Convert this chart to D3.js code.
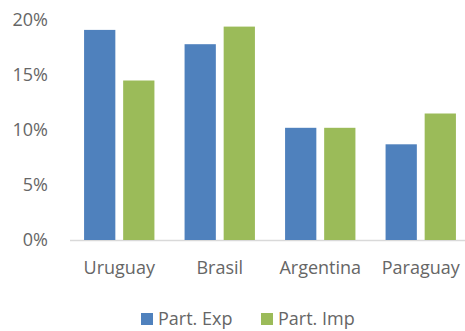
<!DOCTYPE html>
<html><head><meta charset="utf-8">
<script src="https://cdn.jsdelivr.net/npm/d3@7"></script>
<style>body{margin:0;background:#fff}svg{display:block}</style>
</head><body>
<svg id="c" width="465" height="331"></svg>
<script>
const categories = ["Uruguay", "Brasil", "Argentina", "Paraguay"];
const seriesNames = ["Part. Exp", "Part. Imp"];
const partExp = [0.191, 0.178, 0.102, 0.087];
const partImp = [0.145, 0.194, 0.102, 0.115];
const yTicks = [0, 0.05, 0.10, 0.15, 0.20];
const colors = ["#4F81BD", "#9BBB59"];

const svg = d3.select("#c");
const font = "'Open Sans', sans-serif";
const textColor = "#666666";

const x0 = d3.scaleBand().domain(categories).range([69, 471]).paddingInner(0.3).paddingOuter(0.15);
const x1 = d3.scaleBand().domain(seriesNames).range([0, x0.bandwidth()]).paddingInner(0.2);
const y = d3.scaleLinear().domain([0, 0.2]).range([240, 20]);

const values = [partExp, partImp];
const data = categories.map((c, i) => ({cat: c, vals: seriesNames.map((s, j) => ({s, j, v: values[j][i]}))}));

// baseline
svg.append("line").attr("x1", 70).attr("x2", 465).attr("y1", y(0) + 0.5).attr("y2", y(0) + 0.5)
  .attr("stroke", "#d9d9d9").attr("stroke-width", 1.5);

// bars
const g = svg.selectAll("g.grp").data(data).enter().append("g").attr("class", "grp")
  .attr("transform", d => `translate(${x0(d.cat)},0)`);
g.selectAll("rect").data(d => d.vals).enter().append("rect")
  .attr("x", d => x1(d.s)).attr("width", x1.bandwidth())
  .attr("y", d => y(d.v)).attr("height", d => y(0) - y(d.v))
  .attr("fill", d => colors[d.j]);

// y axis
const yAxis = d3.axisLeft(y).tickValues(yTicks).tickFormat(d3.format(".0%")).tickSize(0).tickPadding(0);
const ya = svg.append("g").attr("transform", "translate(48,0)").call(yAxis);
ya.select(".domain").remove();
ya.selectAll("text").attr("font-family", font).attr("font-size", 18).attr("fill", textColor);

// x axis
const xAxis = d3.axisBottom(x0).tickSize(0).tickPadding(0);
const xa = svg.append("g").attr("transform", "translate(0,261)").call(xAxis);
xa.select(".domain").remove();
xa.selectAll("text").attr("font-family", font).attr("font-size", 18).attr("fill", textColor);

// legend
const legendX = [141, 261];
const lg = svg.selectAll("g.leg").data(seriesNames).enter().append("g")
  .attr("transform", (d, i) => `translate(${legendX[i]},313)`);
lg.append("rect").attr("width", 12).attr("height", 12).attr("fill", (d, i) => colors[i]);
lg.append("text").attr("x", 17).attr("y", 6).attr("dy", "0.35em")
  .attr("font-family", font).attr("font-size", 18).attr("fill", textColor).text(d => d);
</script>
</body></html>
